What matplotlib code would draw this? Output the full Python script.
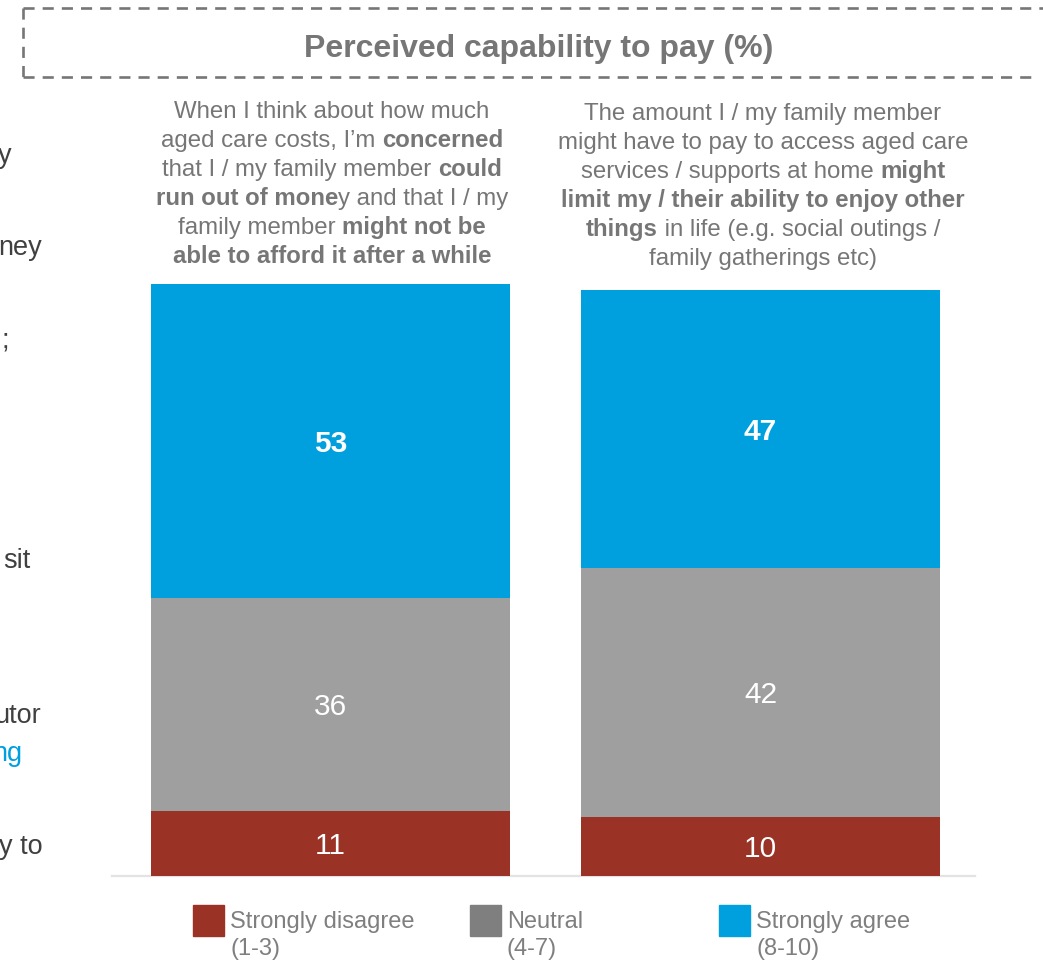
import matplotlib
matplotlib.use("Agg")
import matplotlib.pyplot as plt
from matplotlib.patches import Rectangle
from matplotlib.lines import Line2D

plt.rcParams["font.family"] = ["Liberation Sans", "DejaVu Sans"]
plt.rcParams["lines.scale_dashes"] = False

# ---- data -------------------------------------------------------------
title = "Perceived capability to pay (%)"
categories = ["Concerned about running out of money",
              "Cost might limit enjoying other things"]
strongly_disagree = [11, 10]
neutral = [36, 42]
strongly_agree = [53, 47]
series_names = ["Strongly disagree\n(1-3)", "Neutral\n(4-7)", "Strongly agree\n(8-10)"]

# statement texts: each line is a list of (text, bold) runs
statements = [
    [[("When I think about how much", False)],
     [("aged care costs, I\u2019m ", False), ("concerned", True)],
     [("that I / my family member ", False), ("could", True)],
     [("run out of mone", True), ("y and that I / my", False)],
     [("family member ", False), ("might not be", True)],
     [("able to afford it after a while", True)]],
    [[("The amount I / my family member", False)],
     [("might have to pay to access aged care", False)],
     [("services / supports at home ", False), ("might", True)],
     [("limit my / their ability to enjoy other", True)],
     [("things", True), (" in life (e.g. social outings /", False)],
     [("family gatherings etc)", False)]],
]

# fragments of the neighbouring slide text on the left edge
side_fragments = [("y", 163, "#404040"), ("ney", 255, "#404040"), (";", 347, "#404040"),
                  ("sit", 568, "#404040"), ("utor", 723, "#404040"),
                  ("ng", 761, "#009FDF"), ("y to", 854, "#404040")]
side_right = [12, 42, 9, 30, 41, 22, 43]

# ---- styling ----------------------------------------------------------
W, H = 1043, 963
RED, GREY, BLUE = "#9A3226", "#9F9F9F", "#00A0DF"
TEXT_GREY = "#767676"
LEG_GREY = "#7F7F7F"


def fx(x):
    return x / W


def fy(y):
    return 1 - y / H


fig = plt.figure(figsize=(W / 100, H / 100), dpi=100)
fig.patch.set_facecolor("white")

# axes spanning the baseline (x 112..975 px), value 0 at y=876 px, 100 at y=284 px
ax = fig.add_axes([fx(112), fy(876), fx(975) - fx(112), (876 - 284) / H])
pos = [0, 1]
width = 359 / 430
ax.set_xlim(-(330.5 - 112) / 430, 1 + (975 - 760.5) / 430)
ax.set_ylim(0, 100)

ax.bar(pos, strongly_disagree, width, color=RED, zorder=3)
bottom2 = strongly_disagree
ax.bar(pos, neutral, width, bottom=bottom2, color=GREY, zorder=3)
bottom3 = [a + b for a, b in zip(strongly_disagree, neutral)]
ax.bar(pos, strongly_agree, width, bottom=bottom3, color=BLUE, zorder=3)

for p, v in zip(pos, strongly_disagree):
    ax.text(p, v / 2, f"{v}", ha="center", va="center_baseline", color="white", fontsize=21.5)
for p, v, b in zip(pos, neutral, bottom2):
    ax.text(p, b + v / 2, f"{v}", ha="center", va="center_baseline", color="white", fontsize=21.5)
for p, v, b in zip(pos, strongly_agree, bottom3):
    ax.text(p, b + v / 2, f"{v}", ha="center", va="center_baseline", color="white",
            fontsize=21.5, fontweight="bold")

for s in ["top", "right", "left"]:
    ax.spines[s].set_visible(False)
ax.spines["bottom"].set_color("#E3E3E3")
ax.spines["bottom"].set_linewidth(1.6)
ax.set_xticks([])
ax.set_yticks([])

# ---- dashed title frame ----------------------------------------------
dash = dict(color="#767676", lw=1.9, linestyle=(0, (8, 5.8)))
fig.add_artist(Line2D([fx(23), fx(1043)], [fy(8), fy(8)], **dash))
fig.add_artist(Line2D([fx(23), fx(23)], [fy(8), fy(77)], **dash))
fig.add_artist(Line2D([fx(23), fx(1037)], [fy(77), fy(77)], **dash))
fig.text(fx(539), fy(46), title, ha="center", va="center_baseline", fontsize=23,
         fontweight="bold", color=TEXT_GREY)

# ---- statements with bold runs ----------------------------------------
renderer = fig.canvas.get_renderer()


def run_width(txt, bold, size):
    t = fig.text(0, 0, "a" + txt + "a", fontsize=size,
                 fontweight="bold" if bold else "normal")
    w1 = t.get_window_extent(renderer).width
    t.set_text("aa")
    w0 = t.get_window_extent(renderer).width
    t.remove()
    return w1 - w0


def rich_line(cx, cy, runs, size=17.3, color=TEXT_GREY):
    widths = [run_width(t, b, size) for t, b in runs]
    x = cx - sum(widths) / 2
    for (t, b), w in zip(runs, widths):
        fig.text(fx(x), fy(cy), t, ha="left", va="center_baseline", fontsize=size,
                 fontweight="bold" if b else "normal", color=color)
        x += w


centres = [(332, 109.5), (763, 111.5)]
for (cx, cy0), lines in zip(centres, statements):
    for i, runs in enumerate(lines):
        rich_line(cx, cy0 + i * 28.9, runs)

# ---- cropped side text ------------------------------------------------
for (txt, yb, col), xr in zip(side_fragments, side_right):
    fig.text(fx(xr), fy(yb), txt, ha="right", va="baseline", fontsize=19.5, color=col)

# ---- legend -----------------------------------------------------------
leg = [(193, RED), (470, LEG_GREY), (719, BLUE)]
for (x0, col), name in zip(leg, series_names):
    fig.add_artist(Rectangle((fx(x0), fy(936)), 31 / W, 31 / H, color=col,
                             transform=fig.transFigure))
    first, second = name.split("\n")
    fig.text(fx(x0 + 37), fy(922), first, ha="left", va="center", fontsize=17, color=LEG_GREY)
    fig.text(fx(x0 + 37), fy(949), second, ha="left", va="center", fontsize=17, color=LEG_GREY)

fig.savefig("out.png", dpi=100, facecolor="white")
